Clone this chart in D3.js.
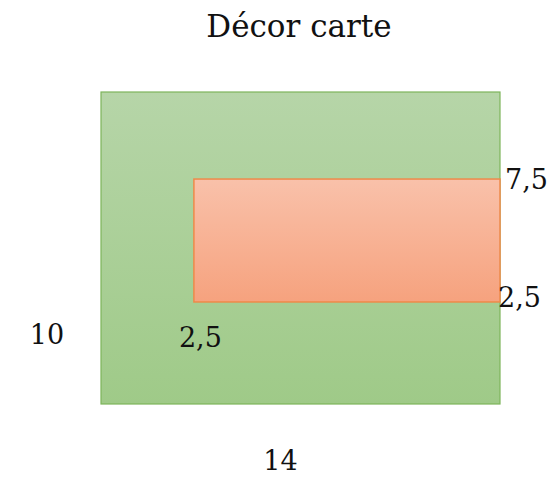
<!DOCTYPE html>
<html>
<head>
<meta charset="utf-8">
<script src="https://cdn.jsdelivr.net/npm/d3@7"></script>
<style>
  body { margin: 0; background: #fff; }
  text { font-family: 'DejaVu Serif', 'Liberation Serif', serif; fill: #111; }
</style>
</head>
<body>
<div id="chart"></div>
<script>
// outer card: width x height (units)
const cardSize = [14, 10];
// inner décor [x0, x1, y0, y1] in card units
const decorBox = [3.26, 14, 3.27, 7.21];
const sizeLabels = ['14', '10'];
const decorLabels = ['7,5', '2,5', '2,5'];
const title = 'Décor carte';

const width = 553, height = 481;
const margins = { top: 92, bottom: 77, left: 101, right: 53 };

const svg = d3.select('#chart').append('svg')
  .attr('width', width)
  .attr('height', height);

const x = d3.scaleLinear().domain([0, cardSize[0]]).range([margins.left, width - margins.right]);
const y = d3.scaleLinear().domain([0, cardSize[1]]).range([height - margins.bottom, margins.top]);

const defs = svg.append('defs');
function grad(id, top, bottom) {
  const g = defs.append('linearGradient').attr('id', id)
    .attr('x1', 0).attr('y1', 0).attr('x2', 0).attr('y2', 1);
  g.append('stop').attr('offset', '0%').attr('stop-color', top);
  g.append('stop').attr('offset', '100%').attr('stop-color', bottom);
}
grad('greenGrad', '#b6d5a8', '#9fca88');
grad('orangeGrad', '#f9c1aa', '#f6a27e');

svg.append('rect')
  .attr('x', x(0)).attr('y', y(cardSize[1]))
  .attr('width', x(cardSize[0]) - x(0))
  .attr('height', y(0) - y(cardSize[1]))
  .attr('fill', 'url(#greenGrad)')
  .attr('stroke', '#7db55b').attr('stroke-width', 1.2);

svg.append('rect')
  .attr('x', x(decorBox[0])).attr('y', y(decorBox[3]))
  .attr('width', x(decorBox[1]) - x(decorBox[0]))
  .attr('height', y(decorBox[2]) - y(decorBox[3]))
  .attr('fill', 'url(#orangeGrad)')
  .attr('stroke', '#ee8a4a').attr('stroke-width', 1.5);

svg.append('text')
  .text(title)
  .attr('x', 299).attr('y', 37)
  .attr('text-anchor', 'middle')
  .style('font-size', '31px');

// width label below, height label left
svg.append('text').text(sizeLabels[0])
  .attr('x', x(6.3)).attr('y', y(0) + 66)
  .attr('text-anchor', 'middle').style('font-size', '27px');
svg.append('text').text(sizeLabels[1])
  .attr('x', x(0) - 54).attr('y', y(2.4) + 15)
  .attr('text-anchor', 'middle').style('font-size', '27px');

// décor labels
svg.append('text').text(decorLabels[0])
  .attr('x', x(decorBox[1]) + 5).attr('y', y(decorBox[3]) + 10)
  .style('font-size', '27px');
svg.append('text').text(decorLabels[1])
  .attr('x', x(decorBox[1]) - 2).attr('y', y(decorBox[2]) + 5)
  .style('font-size', '27px');
svg.append('text').text(decorLabels[2])
  .attr('x', x(decorBox[0]) - 15).attr('y', y(decorBox[2]) + 45)
  .style('font-size', '27px');
</script>
</body>
</html>
